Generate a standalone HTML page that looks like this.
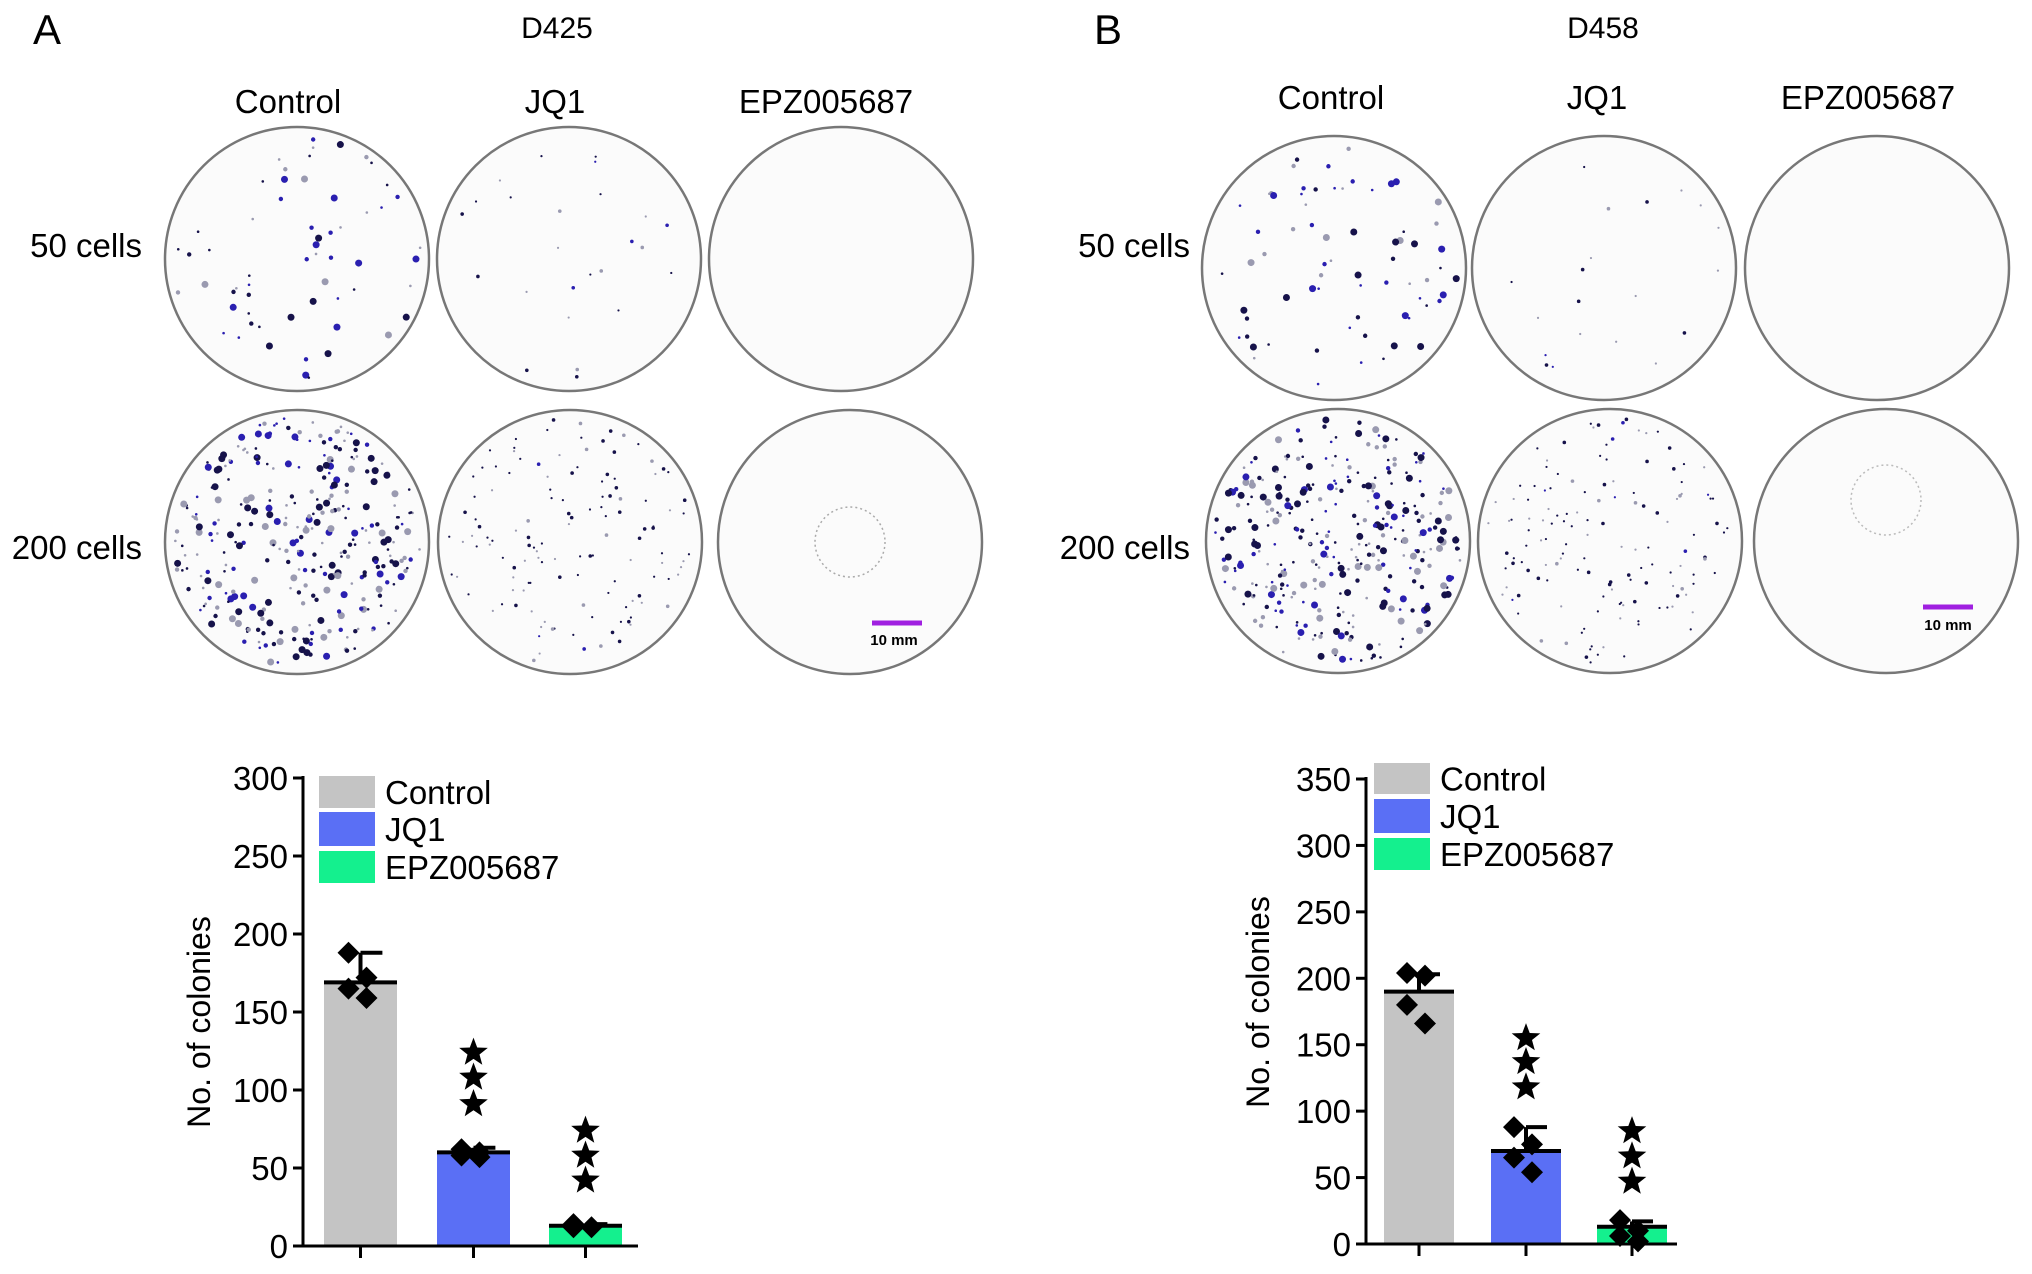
<!DOCTYPE html>
<html><head><meta charset="utf-8"><style>
body{margin:0;background:#fff;width:2032px;height:1274px;overflow:hidden;font-family:"Liberation Sans",sans-serif}
svg{display:block}
</style></head><body>
<svg id="fig" width="2032" height="1274" xmlns="http://www.w3.org/2000/svg" font-family="Liberation Sans, sans-serif">
<g id="topPanels"></g>
<g id="chartA"></g>
<g id="chartB"></g>
</svg>
<script>
// ---- Chart data ----
const categories = ["Control","JQ1","EPZ005687"];
const colors = ["#c4c4c4","#5a6ff5","#14f08e"];
const meansA = [169, 60, 13];
const errA = [188, 63, 14];
const pointsA = [[188,172,165,159],[62,60,58,57],[14,12,12]];
const starsA = [null,[124,108,91],[74,58,42]];
const ticksA = [0,50,100,150,200,250,300];
const meansB = [190, 70, 13];
const errB = [203, 88, 17];
const pointsB = [[204,202,180,166],[88,75,65,54],[18,10,6,2]];
const starsB = [null,[155,137,118],[85,66,47]];
const ticksB = [0,50,100,150,200,250,300,350];

const NS="http://www.w3.org/2000/svg";
function mk(parent,tag,attrs,text){const e=document.createElementNS(NS,tag);for(const k in attrs)e.setAttribute(k,attrs[k]);if(text!==undefined)e.textContent=text;parent.appendChild(e);return e;}

// ---- Top panels (dish images) ----
const topG=document.getElementById('topPanels');
let seed=7;function rnd(){seed=(seed*16807)%2147483647;return seed/2147483647;}
function txt(x,y,s,size,anchor,name){const t=mk(topG,'text',{x:x,y:y,'font-size':size,'text-anchor':anchor||'middle',fill:'#000'},s);

}
txt(47,44,"A",42,'middle','panel-label-a');
txt(1108,44,"B",42,'middle','panel-label-b');
txt(557,38,"D425",30,'middle','title-d425');
txt(1603,38,"D458",30,'middle','title-d458');
[[288,113,"Control"],[555,113,"JQ1"],[826,113,"EPZ005687"],[1331,109,"Control"],[1597,109,"JQ1"],[1868,109,"EPZ005687"]].forEach((h,i)=>txt(h[0],h[1],h[2],33,'middle','column-header-'+i));
txt(142,257,"50 cells",33,'end','row-label-50-a');txt(142,559,"200 cells",33,'end','row-label-200-a');
txt(1190,257,"50 cells",33,'end','row-label-50-b');txt(1190,559,"200 cells",33,'end','row-label-200-b');
const dishes=[[297,259,60,1],[569,259,25,0.3],[841,259,0,0],[297,542,320,0.6],[570,542,130,0.1],[850,542,0,0],
[1334,268,70,1],[1604,268,20,0.3],[1877,268,0,0],[1338,541,330,0.6],[1610,541,140,0.1],[1886,541,0,0]];
dishes.forEach((d,i)=>{
  const g=mk(topG,'g',{});
  
  
  mk(g,'circle',{cx:d[0],cy:d[1],r:132,fill:'#fbfbfb',stroke:'#777','stroke-width':2.5});
  for(let k=0;k<d[2];k++){const a=rnd()*Math.PI*2,rr=Math.sqrt(rnd())*124;const s=rnd();
    const r=d[3]>0.5?(s<0.3?3.5:s<0.6?2.2:1.3):(s<0.3?1.8:1.1);
    const c=rnd()<d[3]*0.4?'#2a1fb0':(rnd()<0.6?'#16124a':'#9a9ab0');
    mk(g,'circle',{cx:d[0]+Math.cos(a)*rr,cy:d[1]+Math.sin(a)*rr,r:r,fill:c});}
});
mk(topG,'circle',{cx:850,cy:542,r:35,fill:'none',stroke:'#aaa','stroke-width':1.5,'stroke-dasharray':'2 3'});
mk(topG,'circle',{cx:1886,cy:500,r:35,fill:'none',stroke:'#bbb','stroke-width':1.5,'stroke-dasharray':'2 3'});
[[897,623,894,645],[1948,607,1948,630]].forEach((s,i)=>{
  const l=mk(topG,'line',{x1:s[0]-25,x2:s[0]+25,y1:s[1],y2:s[1],stroke:'#a020e0','stroke-width':5});
  
  
  const t=mk(topG,'text',{x:s[2],y:s[3],'font-size':15,'font-weight':'bold','text-anchor':'middle'},"10 mm");
  
  
});

// ---- Bar charts ----
function star(g,cx,cy,r){let p=[];for(let i=0;i<10;i++){const a=-Math.PI/2+i*Math.PI/5,rr=i%2?r*0.42:r;p.push((cx+rr*Math.cos(a)).toFixed(1)+','+(cy+rr*Math.sin(a)).toFixed(1));}
  const s=mk(g,'polygon',{points:p.join(' '),fill:'#000'});
  
  }
function drawChart(g,cfg){
  const y=v=>cfg.y0-(v/cfg.max)*(cfg.y0-cfg.yTop);
  cfg.means.forEach((m,i)=>{
    const bx=cfg.barX[i];
    const b=mk(g,'rect',{x:bx,y:y(m),width:cfg.bw,height:cfg.y0-y(m),fill:colors[i]});
    
    
    const cx=bx+cfg.bw/2;
    mk(g,'line',{x1:bx,x2:bx+cfg.bw,y1:y(m),y2:y(m),stroke:'#000','stroke-width':4});
    const e=mk(g,'path',{d:`M${cx} ${y(m)}V${y(cfg.err[i])}M${cx} ${y(cfg.err[i])}H${cx+cfg.bw*0.3}`,stroke:'#000','stroke-width':4,fill:'none'});
    
    
    cfg.points[i].forEach((p,k)=>{const px=cx-12+(k%2)*18,py=y(p),s=11;
      const d=mk(g,'polygon',{points:`${px},${py-s} ${px+s},${py} ${px},${py+s} ${px-s},${py}`,fill:'#000'});
      
      });
    if(cfg.stars[i])cfg.stars[i].forEach(v=>star(g,cx,y(v),15));
    mk(g,'line',{x1:cx,x2:cx,y1:cfg.y0,y2:cfg.y0+12,stroke:'#000','stroke-width':3});
  });
  const ya=mk(g,'line',{x1:cfg.ax,x2:cfg.ax,y1:cfg.yTop-2,y2:cfg.y0+1.5,stroke:'#000','stroke-width':3});
  
  
  const xa=mk(g,'line',{x1:cfg.ax-1.5,x2:cfg.xEnd,y1:cfg.y0,y2:cfg.y0,stroke:'#000','stroke-width':3});
  
  
  cfg.ticks.forEach(t=>{mk(g,'line',{x1:cfg.ax-10,x2:cfg.ax,y1:y(t),y2:y(t),stroke:'#000','stroke-width':3});
    const l=mk(g,'text',{x:cfg.ax-15,y:y(t)+12,'font-size':33,'text-anchor':'end'},String(t));
    
    });
  const tt=mk(g,'text',{x:0,y:0,'font-size':32,'text-anchor':'middle',transform:`translate(${cfg.titleX},${cfg.titleY}) rotate(-90)`},"No. of colonies");
  
  
  categories.forEach((c,i)=>{
    const r=cfg.leg[i];
    const sw=mk(g,'rect',{x:cfg.legX,y:r[0],width:56,height:r[1]-r[0],fill:colors[i]});
    
    
    const lt=mk(g,'text',{x:cfg.legX+66,y:(r[0]+r[1])/2+12,'font-size':33},c);
    
    
  });
}
drawChart(document.getElementById('chartA'),{means:meansA,err:errA,points:pointsA,stars:starsA,ticks:ticksA,max:300,
  y0:1246,yTop:778,ax:303,xEnd:638,barX:[324,437,549],bw:73,titleX:210,titleY:1022,legX:319,leg:[[776,808],[812,846],[851,883]]});
drawChart(document.getElementById('chartB'),{means:meansB,err:errB,points:pointsB,stars:starsB,ticks:ticksB,max:350,
  y0:1244,yTop:779,ax:1366,xEnd:1677,barX:[1384,1491,1597],bw:70,titleX:1269,titleY:1002,legX:1374,leg:[[763,794],[799,833],[838,870]]});
</script>
</body></html>
